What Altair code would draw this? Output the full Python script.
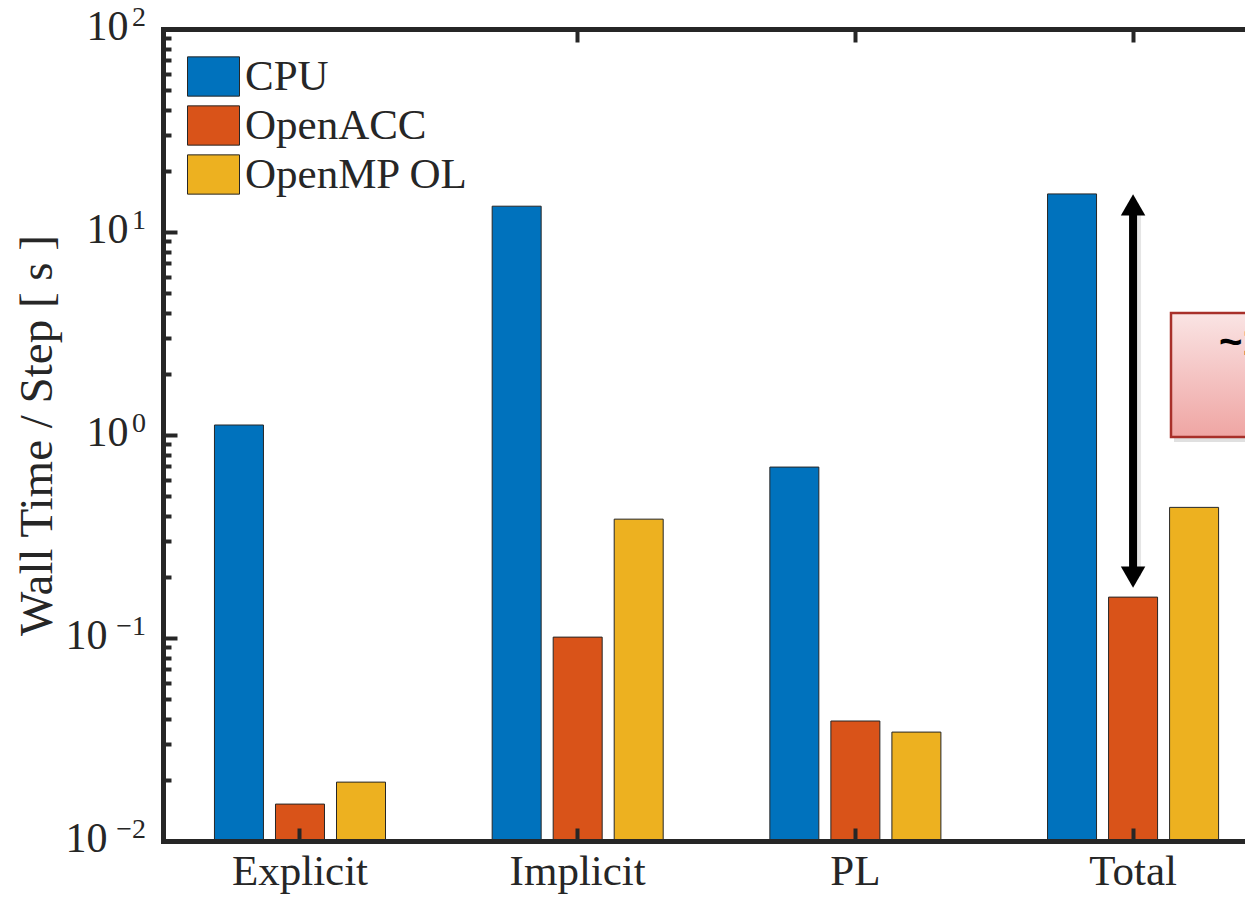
import altair as alt
import pandas as pd

# ---- data ----
groups = ["Explicit", "Implicit", "PL", "Total"]
series = ["CPU", "OpenACC", "OpenMP OL"]
cpu = [1.12, 13.4, 0.695, 15.4]
openacc = [0.0152, 0.101, 0.039, 0.159]
openmp = [0.0195, 0.385, 0.0344, 0.44]
colors = ["#0072BD", "#D95319", "#EDB120"]
y_major = [0.01, 0.1, 1, 10, 100]
y_exponents = ["−2", "−1", "0", "1", "2"]
y_minor_mult = [2, 3, 4, 5, 6, 7, 8, 9]
top_tick_groups = ["Implicit", "PL", "Total"]
arrow_group = ["Total"]
arrow_top = [15.4]
arrow_bottom = [0.176]
note_text = "~100× faster"

rows = []
for i, g in enumerate(groups):
    for s, vals in zip(series, [cpu, openacc, openmp]):
        rows.append({"group": g, "series": s, "value": vals[i]})
df = pd.DataFrame(rows)

all_ticks = list(y_major) + [m * d for d in y_major[:-1] for m in y_minor_mult]
exp_df = pd.DataFrame({"v": y_major, "e": y_exponents})
arrow_df = pd.DataFrame({"group": arrow_group, "top": arrow_top, "bottom": arrow_bottom})
one = pd.DataFrame({"a": [0]})

W, H = 1082, 812
INK = "#262626"
SERIF = "Liberation Serif"
FS = 43

xscale = alt.Scale(domain=groups, paddingInner=0.341, paddingOuter=0.1187, align=0.69)
yscale = alt.Scale(type="log", domain=[0.01, 100], nice=False)
major_list = "[" + ",".join(repr(v) for v in y_major) + "]"

bars = alt.Chart(df).mark_bar(stroke=INK, strokeWidth=1, opacity=1).encode(
    x=alt.X("group:N", sort=groups, scale=xscale,
            axis=alt.Axis(orient="bottom", title=None, ticks=False, labelAngle=0, grid=False,
                          labelFont=SERIF, labelFontSize=FS, labelColor=INK, labelPadding=9,
                          labelLimit=600,
                          domainColor=INK, domainWidth=5, domainCap="square", zindex=1)),
    xOffset=alt.XOffset("series:N", sort=series,
                        scale=alt.Scale(domain=series, paddingInner=0.197, paddingOuter=0.098)),
    y=alt.Y("value:Q", scale=yscale,
            axis=alt.Axis(orient="left", values=y_major, labelExpr="'10'", ticks=False, grid=False,
                          labelFont=SERIF, labelFontSize=42, labelColor=INK,
                          labelPadding={"condition": {"test": "datum.value < 0.5", "value": 56},
                                        "value": 35},
                          labelBaseline="middle", labelOffset=-3,
                          domainColor=INK, domainWidth=5, domainCap="square", zindex=1,
                          title="Wall Time / Step [ s ]", titleFont=SERIF, titleFontSize=47,
                          titleFontWeight="normal", titleColor=INK, titleX=-126, titleY=H / 2,
                          titleAngle=270, titleAlign="center", titleBaseline="middle")),
    y2=alt.datum(0.01),
    color=alt.Color("series:N", sort=series,
                    scale=alt.Scale(domain=series, range=colors),
                    legend=alt.Legend(title=None, orient="none", legendX=24, legendY=21,
                                      symbolType="M-1,-0.755H1V0.755H-1Z", symbolSize=2704,
                                      symbolStrokeColor=INK, symbolStrokeWidth=1, symbolOpacity=1,
                                      labelFont=SERIF, labelFontSize=FS, labelColor=INK,
                                      labelOffset=5, labelLimit=600, rowPadding=0, padding=0)),
)

# exponents of the y tick labels
exps = alt.Chart(exp_df).mark_text(font=SERIF, fontSize=28, color=INK, align="right",
                                   baseline="alphabetic", dy=-3).encode(
    x=alt.value(-17),
    y=alt.Y("v:Q", scale=yscale, axis=None),
    text="e:N",
)

# inward ticks on left and top (axes moved inward with negative offsets)
ticks_a = alt.Chart(df).mark_bar(opacity=0).encode(
    x=alt.X("group:N", sort=groups, scale=xscale,
            axis=alt.Axis(orient="bottom", offset=-H, title=None, labels=False, grid=False,
                          values=top_tick_groups,
                          tickSize=13, tickWidth=4, tickColor=INK,
                          domainColor=INK, domainWidth=5, domainCap="square", zindex=1)),
    y=alt.Y("value:Q", scale=yscale,
            axis=alt.Axis(orient="right", offset=-W, title=None, labels=False, domain=False,
                          grid=False, values=all_ticks, tickColor=INK, tickWidth=4, zindex=1,
                          tickSize={"condition": {"test": "indexof(" + major_list + ", datum.value) >= 0",
                                                  "value": 14}, "value": 8})),
    y2=alt.datum(0.01),
)

ticks_b = alt.Chart(df).mark_bar(opacity=0).encode(
    x=alt.X("group:N", sort=groups, scale=xscale,
            axis=alt.Axis(orient="top", offset=-H, title=None, labels=False, domain=False,
                          grid=False, tickSize=13, tickWidth=4, tickColor=INK, zindex=1)),
    y=alt.Y("value:Q", scale=yscale, axis=None),
    y2=alt.datum(0.01),
)

# annotation: double arrow
ax_none = dict(sort=groups, scale=xscale, axis=None)
arrow_shadow = alt.Chart(arrow_df).mark_rule(color="#000000", opacity=0.1, strokeWidth=10,
                                              xOffset=3, yOffset=16, y2Offset=-12).encode(
    x=alt.X("group:N", **ax_none),
    y=alt.Y("top:Q", scale=yscale, axis=None), y2="bottom:Q")
arrow_line = alt.Chart(arrow_df).mark_rule(color="#000000", strokeWidth=8,
                                            yOffset=15, y2Offset=-15).encode(
    x=alt.X("group:N", **ax_none),
    y=alt.Y("top:Q", scale=yscale, axis=None), y2="bottom:Q")
head_up = alt.Chart(arrow_df).mark_point(shape="triangle-up", size=600, filled=True,
                                         color="#000000", opacity=1, yOffset=11).encode(
    x=alt.X("group:N", **ax_none),
    y=alt.Y("top:Q", scale=yscale, axis=None))
head_down = alt.Chart(arrow_df).mark_point(shape="triangle-down", size=600, filled=True,
                                           color="#000000", opacity=1, yOffset=-11).encode(
    x=alt.X("group:N", **ax_none),
    y=alt.Y("bottom:Q", scale=yscale, axis=None))

# annotation: pink callout box
grad = alt.LinearGradient(gradient="linear",
                          stops=[alt.GradientStop(color="#fae4e4", offset=0),
                                 alt.GradientStop(color="#efa5a3", offset=1)],
                          x1=0, x2=0, y1=0, y2=1)
box_shadow = alt.Chart(one).mark_rect(fill="#000000", opacity=0.12).encode(
    x=alt.value(1011), x2=alt.value(1130), y=alt.value(288), y2=alt.value(413))
box = alt.Chart(one).mark_rect(fill=grad, stroke="#a8302a", strokeWidth=2.5).encode(
    x=alt.value(1008), x2=alt.value(1130), y=alt.value(284), y2=alt.value(408))
note = alt.Chart(one).mark_text(text=note_text, font="Liberation Sans", fontSize=40,
                                fontWeight="bold", align="left", baseline="alphabetic",
                                color="#000000").encode(
    x=alt.value(1056), y=alt.value(326))

chart = alt.layer(bars, exps, ticks_a, ticks_b, arrow_shadow, arrow_line, head_up, head_down,
                  box_shadow, box, note).resolve_axis(
    x="independent", y="independent"
).properties(
    width=W, height=H,
    autosize=alt.AutoSizeParams(type="none"),
    padding={"left": 155, "top": 21, "right": 0, "bottom": 56},
    background="white",
).configure_view(stroke=None).configure_axis(grid=False)

chart.save("out.html", embed_options={"renderer": "svg", "actions": False})
